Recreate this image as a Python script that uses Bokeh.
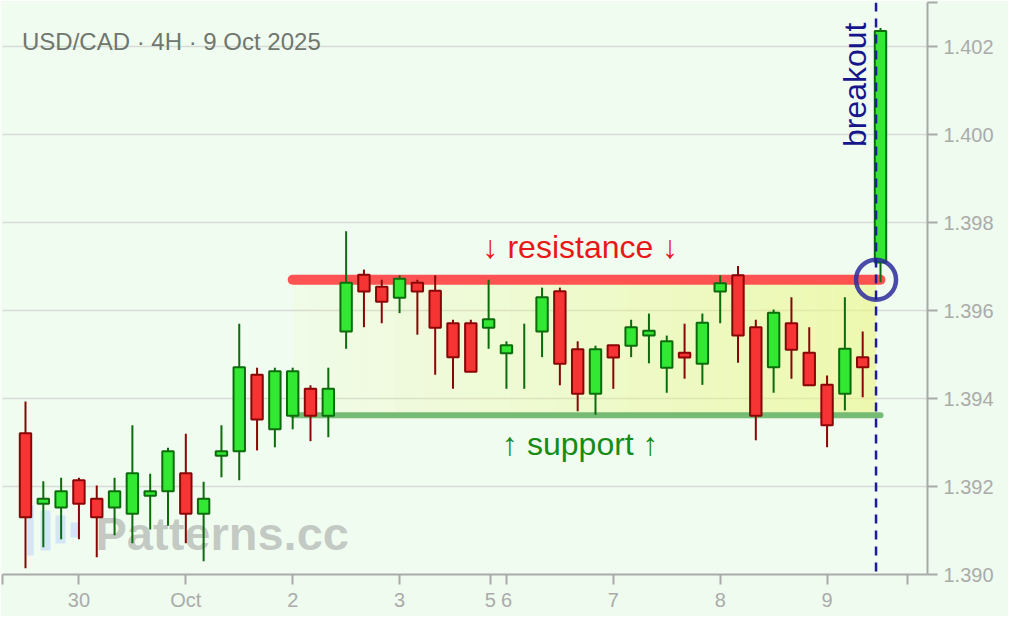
import numpy as np
from bokeh.plotting import figure
from bokeh.models import Range1d, FixedTicker, Span, Label, ColumnDataSource, NumeralTickFormatter
from bokeh.embed import file_html
from bokeh.resources import INLINE

# ---------------- data ----------------
TITLE = "USD/CAD · 4H · 9 Oct 2025"
OPEN = [1.39321, 1.39161, 1.39152, 1.39214, 1.39172, 1.39152, 1.39138, 1.39179, 1.39189, 1.39230,
        1.39138, 1.39270, 1.39280, 1.39454, 1.39330, 1.39361, 1.39422, 1.39361, 1.39552, 1.39681,
        1.39654, 1.39629, 1.39663, 1.39645, 1.39571, 1.39571, 1.39561, 1.39503, 1.39500, 1.39552,
        1.39644, 1.39512, 1.39411, 1.39521, 1.39520, 1.39543, 1.39470, 1.39504, 1.39479, 1.39643,
        1.39680, 1.39562, 1.39471, 1.39571, 1.39504, 1.39431, 1.39411, 1.39494, 1.39709]
HIGH = [1.39393, 1.39212, 1.39220, 1.39220, 1.39202, 1.39220, 1.39339, 1.39229, 1.39288, 1.39320,
        1.39211, 1.39339, 1.39570, 1.39470, 1.39470, 1.39470, 1.39430, 1.39470, 1.39780, 1.39693,
        1.39670, 1.39680, 1.39670, 1.39680, 1.39579, 1.39579, 1.39670, 1.39530, 1.39570, 1.39652,
        1.39652, 1.39530, 1.39520, 1.39521, 1.39579, 1.39593, 1.39543, 1.39570, 1.39593, 1.39680,
        1.39701, 1.39579, 1.39602, 1.39630, 1.39562, 1.39452, 1.39630, 1.39552, 1.40242]
LOW = [1.39014, 1.39062, 1.39080, 1.39080, 1.39039, 1.39089, 1.39071, 1.39102, 1.39111, 1.39071,
       1.39030, 1.39221, 1.39214, 1.39282, 1.39289, 1.39330, 1.39303, 1.39312, 1.39513, 1.39562,
       1.39571, 1.39594, 1.39545, 1.39454, 1.39422, 1.39461, 1.39513, 1.39422, 1.39422, 1.39494,
       1.39430, 1.39371, 1.39363, 1.39422, 1.39494, 1.39480, 1.39413, 1.39445, 1.39431, 1.39571,
       1.39481, 1.39305, 1.39413, 1.39445, 1.39430, 1.39289, 1.39373, 1.39403, 1.39664]
CLOSE = [1.39130, 1.39172, 1.39189, 1.39161, 1.39130, 1.39189, 1.39230, 1.39189, 1.39280, 1.39138,
         1.39172, 1.39280, 1.39471, 1.39352, 1.39462, 1.39462, 1.39361, 1.39422, 1.39663, 1.39643,
         1.39620, 1.39672, 1.39643, 1.39561, 1.39494, 1.39461, 1.39580, 1.39521, 1.39500, 1.39630,
         1.39479, 1.39411, 1.39512, 1.39493, 1.39562, 1.39554, 1.39530, 1.39493, 1.39572, 1.39662,
         1.39543, 1.39361, 1.39595, 1.39511, 1.39430, 1.39339, 1.39513, 1.39471, 1.40235]

X_TICKS = [3, 9, 15, 21, 26.1, 27, 33, 39, 45]
X_TICK_LABELS = ["30", "Oct", "2", "3", "5", "6", "7", "8", "9"]
Y_TICKS = [1.390, 1.392, 1.394, 1.396, 1.398, 1.400, 1.402]

RESISTANCE = 1.3967
SUPPORT = 1.39362
LEVEL_START = 15
LEVEL_END = 48
BREAKOUT_X = 47.75
LABEL_CENTER_X = 31.15

# ---------------- layout constants ----------------
W, H = 1008, 616
F_LEFT, F_RIGHT, F_TOP, F_BOTTOM = 2, 927, 2, 574
C0_PX, STEP_PX = 25.0, 17.8125
X_START = (F_LEFT - C0_PX) / STEP_PX
X_END = (F_RIGHT - C0_PX) / STEP_PX
X_AXIS_END = 49.5
Y_MIN, Y_MAX = 1.390, 1.403
PX_PER_Y = (F_BOTTOM - F_TOP) / (Y_MAX - Y_MIN)


def px_x(px):
    return X_START + (px - F_LEFT) / STEP_PX


def py_y(py):
    return Y_MIN + (F_BOTTOM - py) / PX_PER_Y


FONT = "Liberation Sans"
BG = "#f1fcf1"

p = figure(width=W, height=H, x_range=Range1d(X_START, X_END), y_range=Range1d(Y_MIN, Y_MAX),
           output_backend="svg", toolbar_location=None, y_axis_location="right",
           min_border_left=F_LEFT, min_border_top=F_TOP,
           min_border_right=W - F_RIGHT, min_border_bottom=H - F_BOTTOM)
p.outline_line_color = None
p.background_fill_color = BG
p.border_fill_color = "#eefbee"

p.xgrid.visible = False
p.ygrid.ticker = FixedTicker(ticks=Y_TICKS)
p.ygrid.grid_line_color = "#d6dbd6"
p.ygrid.grid_line_width = 1.5

xa = p.xaxis[0]
xa.ticker = FixedTicker(ticks=[X_START] + X_TICKS + [X_AXIS_END])
overrides = {t: l for t, l in zip(X_TICKS, X_TICK_LABELS)}
overrides[X_START] = ""
overrides[X_AXIS_END] = ""
xa.major_label_overrides = overrides

ya = p.yaxis[0]
ya.ticker = FixedTicker(ticks=Y_TICKS + [Y_MAX])
ya.formatter = NumeralTickFormatter(format="0.000")
ya.major_label_overrides = {Y_MAX: ""}

for ax in (xa, ya):
    ax.axis_line_color = "#a9a9a9"
    ax.axis_line_width = 2
    ax.major_tick_line_color = "#a9a9a9"
    ax.major_tick_line_width = 2
    ax.major_tick_out = 10
    ax.major_tick_in = 0
    ax.minor_tick_line_color = None
    ax.major_label_text_font = FONT
    ax.major_label_text_font_size = "20px"
    ax.major_label_text_color = "#ababab"
xa.major_label_standoff = 4
ya.major_label_standoff = 6

# title
p.add_layout(Label(x=X_START, y=Y_MAX, x_offset=19.5, y_offset=-39, text=TITLE,
                   text_font=FONT, text_font_size="24px", text_color="#6f776f",
                   text_baseline="alphabetic", text_align="left"))

# watermark + faint logo
logo_l = [26.7, 40, 55, 70]
logo_r = [33.3, 50, 65, 78]
logo_t = [505, 510, 515, 522]
logo_b = [555, 550, 543, 537]
p.quad(left=[px_x(v) for v in logo_l], right=[px_x(v) for v in logo_r],
       top=[py_y(v) for v in logo_t], bottom=[py_y(v) for v in logo_b],
       fill_color="#c4ddf8", fill_alpha=0.7, line_color=None)
p.add_layout(Label(x=px_x(95), y=py_y(533), text="Patterns.cc", text_font=FONT,
                   text_font_style="bold", text_font_size="47px", text_color="#8a8a8a",
                   text_alpha=0.45, text_baseline="alphabetic", level="underlay"))

# consolidation zone with a left-to-right fade
n = 40
edges = np.linspace(LEVEL_START, BREAKOUT_X, n + 1)
alphas = np.linspace(0.08, 0.62, n)
p.quad(left=edges[:-1], right=edges[1:], top=RESISTANCE, bottom=SUPPORT,
       fill_color="#eaf685", fill_alpha=alphas, line_color=None)

# support / resistance lines
p.line([LEVEL_START, LEVEL_END], [RESISTANCE, RESISTANCE], line_color="#ff4a4a",
       line_width=10, line_cap="round", line_alpha=0.95)
p.line([LEVEL_START, LEVEL_END], [SUPPORT, SUPPORT], line_color="#6fb76f",
       line_width=6, line_cap="round", line_alpha=0.95)

# candles
o = np.array(OPEN)
c = np.array(CLOSE)
idx = np.arange(len(o))
up = c >= o
wick_col = np.where(up, "#0c6c0c", "#8a0606")
p.segment(x0=idx, y0=HIGH, x1=idx, y1=LOW, line_color=wick_col, line_width=2)

mask = np.abs(c - o) > 1e-9
body = ColumnDataSource(dict(
    x=idx[mask],
    top=np.maximum(o, c)[mask],
    bottom=np.minimum(o, c)[mask],
    fill=np.where(up, "#33e833", "#f73434")[mask],
    line=np.where(up, "#0c6c0c", "#8a0606")[mask],
))
p.vbar(x="x", width=0.64, top="top", bottom="bottom", fill_color="fill",
       line_color="line", line_width=2, source=body)

# breakout marker
p.scatter([BREAKOUT_X], [RESISTANCE], marker="circle", size=40, fill_color=None,
          line_color="#2b2b9c", line_width=4.5, line_alpha=0.85)
p.add_layout(Span(location=BREAKOUT_X, dimension="height", line_color="#1c1c98",
                  line_width=2.5, line_dash="9 7"))

# annotations
p.add_layout(Label(x=LABEL_CENTER_X, y=RESISTANCE, y_offset=33, text="↓ resistance ↓",
                   text_font=FONT, text_font_size="32px", text_color="#e81818",
                   text_align="center", text_baseline="alphabetic"))
p.add_layout(Label(x=LABEL_CENTER_X, y=SUPPORT, y_offset=-28.5, text="↑ support ↑",
                   text_font=FONT, text_font_size="32px", text_color="#168c16",
                   text_align="center", text_baseline="alphabetic"))
p.add_layout(Label(x=BREAKOUT_X, y=Y_MAX, x_offset=-21, y_offset=-20, text="breakout",
                   angle=np.pi / 2, text_font=FONT, text_font_size="32px",
                   text_color="#16168c", text_align="right", text_baseline="alphabetic"))

open("out.html", "w").write(file_html(p, INLINE))
